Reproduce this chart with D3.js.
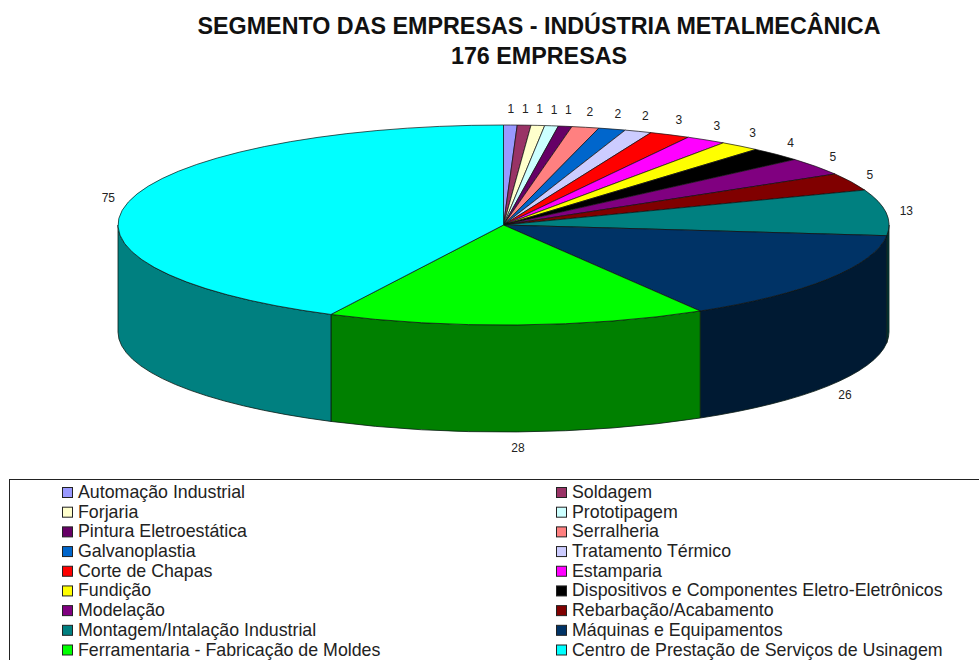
<!DOCTYPE html>
<html>
<head>
<meta charset="utf-8">
<script src="https://cdn.jsdelivr.net/npm/d3@7"></script>
<style>
  html, body { margin: 0; padding: 0; background: #fff; overflow: hidden; }
  text { font-family: "Liberation Sans", Arial, sans-serif; }
</style>
</head>
<body>
<svg id="chart" width="979" height="660"></svg>
<script>
const categories = [
    'Automação Industrial', 'Soldagem', 'Forjaria', 'Prototipagem', 'Pintura Eletroestática',
    'Serralheria', 'Galvanoplastia', 'Tratamento Térmico', 'Corte de Chapas', 'Estamparia',
    'Fundição', 'Dispositivos e Componentes Eletro-Eletrônicos', 'Modelação', 'Rebarbação/Acabamento',
    'Montagem/Intalação Industrial', 'Máquinas e Equipamentos',
    'Ferramentaria - Fabricação de Moldes', 'Centro de Prestação de Serviços de Usinagem'
];
const values = [1, 1, 1, 1, 1, 2, 2, 2, 3, 3, 3, 4, 5, 5, 13, 26, 28, 75];
const sliceColors = [
    '#9999ff', '#993366', '#ffffcc', '#ccffff', '#660066', '#ff8080', '#0066cc', '#ccccff', '#ff0000',
    '#ff00ff', '#ffff00', '#000000', '#800080', '#800000', '#008080', '#003366', '#00ff00', '#00ffff'
];
const titleLines = ['SEGMENTO DAS EMPRESAS - INDÚSTRIA METALMECÂNICA', '176 EMPRESAS'];

const cx = 503.5, cy = 225, rx = 385.5, ry = 100, depth = 107;
const labelRx = 406, labelRy = 116;

const svg = d3.select('#chart');

svg.append('g')
    .selectAll('text')
    .data(titleLines)
    .enter()
    .append('text')
    .attr('x', 539)
    .attr('y', (d, i) => 34 + i * 30)
    .attr('text-anchor', 'middle')
    .attr('font-size', 23.3)
    .attr('font-weight', 'bold')
    .attr('fill', '#111')
    .text((d) => d);

const slices = d3.pie().sort(null)(values).map((s, i) => ({ ...s, index: i }));
const px = (a) => cx + rx * Math.sin(a);
const py = (a) => cy - ry * Math.cos(a);
const darker = (c) => {
    const rgb = d3.rgb(c);
    return d3.rgb(rgb.r / 2, rgb.g / 2, rgb.b / 2).formatHex();
};

// side wall, only the front half of the ellipse shows
const front = slices
    .map((s) => ({ ...s, a0: Math.max(s.startAngle, Math.PI / 2), a1: Math.min(s.endAngle, 1.5 * Math.PI) }))
    .filter((s) => s.a1 > s.a0);

svg.append('g')
    .selectAll('path')
    .data(front)
    .enter()
    .append('path')
    .attr('d', (s) => `M${px(s.a0)},${py(s.a0)}A${rx},${ry} 0 0 1 ${px(s.a1)},${py(s.a1)}`
        + `L${px(s.a1)},${py(s.a1) + depth}A${rx},${ry} 0 0 0 ${px(s.a0)},${py(s.a0) + depth}Z`)
    .attr('fill', (s) => darker(sliceColors[s.index]))
    .attr('stroke', '#0a1a14')
    .attr('stroke-width', 0.8);

svg.append('g')
    .selectAll('path')
    .data(slices)
    .enter()
    .append('path')
    .attr('d', (s) => {
        const large = s.endAngle - s.startAngle > Math.PI ? 1 : 0;
        return `M${cx},${cy}L${px(s.startAngle)},${py(s.startAngle)}`
            + `A${rx},${ry} 0 ${large} 1 ${px(s.endAngle)},${py(s.endAngle)}Z`;
    })
    .attr('fill', (s) => sliceColors[s.index])
    .attr('stroke', '#101010')
    .attr('stroke-width', 0.7);

svg.append('g')
    .selectAll('text')
    .data(slices)
    .enter()
    .append('text')
    .attr('x', (s) => cx + labelRx * Math.sin((s.startAngle + s.endAngle) / 2))
    .attr('y', (s) => {
        const mid = (s.startAngle + s.endAngle) / 2;
        const drop = Math.cos(mid) < 0 ? depth : 0;
        return cy - labelRy * Math.cos(mid) + drop + 4;
    })
    .attr('text-anchor', 'middle')
    .attr('font-size', 12)
    .attr('fill', '#222')
    .text((s) => s.value);

// legend box runs off the bottom and right of the picture
svg.append('rect')
    .attr('x', 9.5)
    .attr('y', 479.5)
    .attr('width', 1000)
    .attr('height', 220)
    .attr('fill', 'none')
    .attr('stroke', '#222')
    .attr('stroke-width', 1);

const rowY = d3.scalePoint().domain(d3.range(9)).range([492, 649.5]);
const colX = d3.scalePoint().domain([0, 1]).range([62, 556]);

const legend = svg.append('g')
    .selectAll('g')
    .data(categories)
    .enter()
    .append('g')
    .attr('transform', (d, i) => `translate(${colX(i % 2)},${rowY(Math.floor(i / 2))})`);

legend.append('rect')
    .attr('x', 0.5)
    .attr('y', -4.5)
    .attr('width', 10)
    .attr('height', 10)
    .attr('fill', (d, i) => sliceColors[i])
    .attr('stroke', '#222')
    .attr('stroke-width', 1);

legend.append('text')
    .attr('x', 16)
    .attr('y', 6)
    .attr('font-size', 17.8)
    .attr('fill', '#222')
    .text((d) => d);
</script>
</body>
</html>
